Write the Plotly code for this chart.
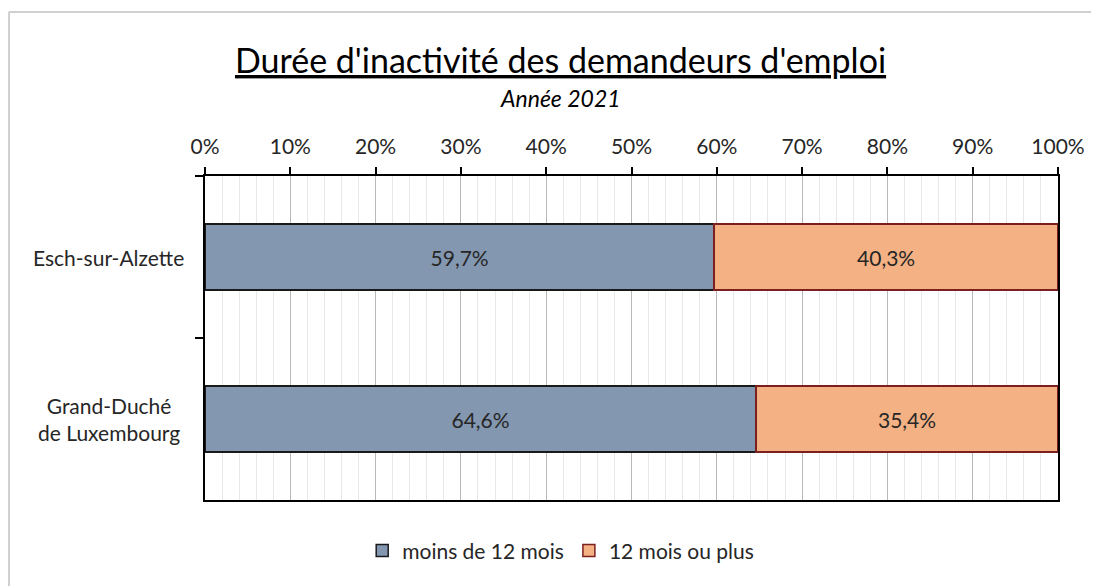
import plotly.graph_objects as go

categories = ["Esch-sur-Alzette", "Grand-Duché de Luxembourg"]
cat_labels = ["Esch-sur-Alzette", "Grand-Duché<br>de Luxembourg"]
moins_12 = [0.597, 0.646]
plus_12 = [0.403, 0.354]
series_names = ["moins de 12 mois", "12 mois ou plus"]
x_ticks = [0, 0.1, 0.2, 0.3, 0.4, 0.5, 0.6, 0.7, 0.8, 0.9, 1.0]

FONT = "Lato, Calibri, sans-serif"
TXT = "#262626"
FS = 21

fig = go.Figure()
fig.add_trace(go.Bar(
    y=categories, x=moins_12, orientation="h", name=series_names[0],
    marker=dict(color="#8497B0", line=dict(color="#1a1a1a", width=1.5)),
    width=0.41, texttemplate="%{x:.1%}", textposition="inside",
    insidetextanchor="middle", textfont=dict(size=FS, color=TXT, family=FONT),
))
fig.add_trace(go.Bar(
    y=categories, x=plus_12, orientation="h", name=series_names[1],
    marker=dict(color="#F4B183", line=dict(color="#7B1F1F", width=1.5)),
    width=0.41, texttemplate="%{x:.1%}", textposition="inside",
    insidetextanchor="middle", textfont=dict(size=FS, color=TXT, family=FONT),
))

for c, lab in zip(categories, cat_labels):
    fig.add_annotation(x=-0.113, xref="paper", y=c, yref="y", text=lab,
                       showarrow=False, xanchor="center", yanchor="middle",
                       font=dict(size=FS, color=TXT, family=FONT))

fig.add_annotation(x=0.417, xref="paper", y=1.36, yref="paper", yanchor="middle",
                   text="<u>Durée d'inactivité des demandeurs d'emploi</u>",
                   showarrow=False, font=dict(size=34, color="#000000", family=FONT))
fig.add_annotation(x=0.417, xref="paper", y=1.241, yref="paper", yanchor="middle",
                   text="<i>Année 2021</i>",
                   showarrow=False, font=dict(size=23, color="#000000", family=FONT))

# outer chart border (left & top)
fig.add_shape(type="line", xref="paper", yref="paper", x0=-0.2298, x1=-0.2298, y0=-0.4, y1=1.506,
              line=dict(color="#d0d0d0", width=2))
fig.add_shape(type="line", xref="paper", yref="paper", x0=-0.2298, x1=1.1, y0=1.506, y1=1.506,
              line=dict(color="#d0d0d0", width=2))

fig.update_layout(
    width=1099, height=586,
    margin=dict(l=197, r=49, t=168, b=94),
    barmode="stack", bargap=0.59,
    separators=", ",
    paper_bgcolor="white", plot_bgcolor="white",
    font=dict(family=FONT, size=FS, color=TXT),
    showlegend=True,
    legend=dict(orientation="h", x=0.417, xanchor="center", y=-0.157, yanchor="middle",
                font=dict(size=FS, color=TXT, family=FONT), traceorder="normal",
                itemwidth=30),
    xaxis=dict(
        side="top", range=[0, 1], tickvals=x_ticks, tickformat=".0%",
        ticks="outside", ticklen=7, tickcolor="#000", tickwidth=1.5,
        showline=True, linecolor="#000", linewidth=1.5, mirror=True,
        showgrid=True, gridcolor="#b8b8b8", gridwidth=1,
        minor=dict(dtick=0.02, showgrid=True, gridcolor="#e8e8e8", gridwidth=1, ticks=""),
        tickfont=dict(size=FS, color=TXT, family=FONT), zeroline=False,
        ticklabelstandoff=5,
    ),
    yaxis=dict(
        autorange="reversed", showticklabels=False,
        ticks="outside", tickson="boundaries", ticklen=8, tickcolor="#000", tickwidth=1.5,
        showline=True, linecolor="#000", linewidth=2, mirror=True, showgrid=False,
    ),
)

fig.write_html("out.html")
